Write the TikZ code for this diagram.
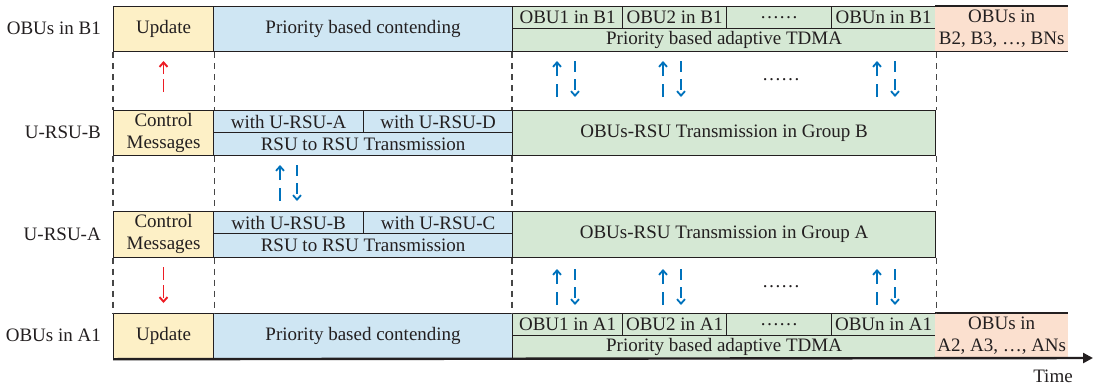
\documentclass[tikz,border=0pt]{standalone}
\usepackage{fontspec}
\setmainfont{Liberation Serif}
\usetikzlibrary{arrows.meta}

\definecolor{updfill}{RGB}{253,240,198}
\definecolor{contfill}{RGB}{207,230,243}
\definecolor{tdmafill}{RGB}{213,232,212}
\definecolor{restfill}{RGB}{251,224,207}
\definecolor{edge}{RGB}{35,31,32}
\definecolor{guidegray}{RGB}{70,70,70}
\definecolor{sigblue}{RGB}{0,114,188}
\definecolor{sigred}{RGB}{237,28,36}

\tikzset{
  txt/.style={text=edge, font=\fontsize{19}{22}\selectfont},
  cell/.style={txt, draw=edge, line width=1.2pt, inner sep=0pt, align=center, anchor=north west},
  upd/.style={cell, fill=updfill},
  cont/.style={cell, fill=contfill},
  tdma/.style={cell, fill=tdmafill},
  rest/.style={txt, fill=restfill, inner sep=0pt, align=center, anchor=north west},
  rowlabel/.style={txt, anchor=east, inner sep=0pt},
  guide/.style={guidegray, line width=1.1pt, dash pattern=on 6pt off 5pt},
  sigup/.style={sigblue, line width=1.8pt, dash pattern=on 13pt off 8pt, -{Straight Barb[length=4.5pt,width=8pt]}},
  sigdown/.style={sigblue, line width=1.8pt, dash pattern=on 11pt off 7pt, -{Straight Barb[length=4.5pt,width=8pt]}},
  redsig/.style={sigred, line width=1.9pt, dash pattern=on 13pt off 5pt, -{Straight Barb[length=4.5pt,width=8pt]}},
  axis/.style={edge, line width=2.4pt, -{Triangle[length=10pt,width=10pt]}},
}

\begin{document}
\begin{tikzpicture}[x=1pt,y=-1pt]
\useasboundingbox (0,0) rectangle (1094,388);

% ---------------- row labels ----------------
\node[rowlabel] (lblB1) at (101,28.5)  {OBUs in B1};
\node[rowlabel] (lblRB) at (101,132.5) {U-RSU-B};
\node[rowlabel] (lblRA) at (101,234)   {U-RSU-A};
\node[rowlabel] (lblA1) at (101,335.5) {OBUs in A1};

% ---------------- OBUs in B1 ----------------
\node[upd,  minimum width=100pt, minimum height=45pt]   (updB)  at (113,6)    {Update};
\node[cont, minimum width=299pt, minimum height=45pt]   (contB) at (213,6)    {Priority based contending};
\node[tdma, minimum width=110pt, minimum height=21.5pt] (obu1B) at (512,6)    {OBU1 in B1};
\node[tdma, minimum width=104pt, minimum height=21.5pt] (obu2B) at (622,6)    {OBU2 in B1};
\node[tdma, minimum width=105pt, minimum height=21.5pt] (obudB) at (726,6)    {……};
\node[tdma, minimum width=104pt, minimum height=21.5pt] (obunB) at (831,6)    {OBUn in B1};
\node[tdma, minimum width=423pt, minimum height=23.5pt] (tdmaB) at (512,27.5) {Priority based adaptive TDMA};
\node[rest, minimum width=133pt, minimum height=45pt]   (restB) at (935,6)    {OBUs in\\B2, B3, …, BNs};
\draw[edge, line width=1.2pt] (restB.north west) -- (restB.north east);
\draw[edge, line width=1.2pt] (restB.south west) -- (restB.south east);

% ---------------- U-RSU-B ----------------
\node[upd,  minimum width=100pt, minimum height=45pt] (ctrlB) at (113,110) {Control\\Messages};
\node[cont, minimum width=150pt, minimum height=22pt] (wAB)   at (213,110) {with U-RSU-A};
\node[cont, minimum width=149pt, minimum height=22pt] (wDB)   at (363,110) {with U-RSU-D};
\node[cont, minimum width=299pt, minimum height=23pt] (r2rB)  at (213,132) {RSU to RSU Transmission};
\node[tdma, minimum width=423pt, minimum height=45pt] (grpB)  at (512,110) {OBUs-RSU Transmission in Group B};

% ---------------- U-RSU-A ----------------
\node[upd,  minimum width=100pt, minimum height=45.5pt] (ctrlA) at (113,211) {Control\\Messages};
\node[cont, minimum width=150pt, minimum height=22pt]   (wBA)   at (213,211) {with U-RSU-B};
\node[cont, minimum width=149pt, minimum height=22pt]   (wCA)   at (363,211) {with U-RSU-C};
\node[cont, minimum width=299pt, minimum height=23.5pt] (r2rA)  at (213,233) {RSU to RSU Transmission};
\node[tdma, minimum width=423pt, minimum height=45.5pt] (grpA)  at (512,211) {OBUs-RSU Transmission in Group A};

% ---------------- OBUs in A1 ----------------
\node[upd,  minimum width=100pt, minimum height=45pt]   (updA)  at (113,313)  {Update};
\node[cont, minimum width=299pt, minimum height=45pt]   (contA) at (213,313)  {Priority based contending};
\node[tdma, minimum width=110pt, minimum height=22pt]   (obu1A) at (512,313)  {OBU1 in A1};
\node[tdma, minimum width=104pt, minimum height=22pt]   (obu2A) at (622,313)  {OBU2 in A1};
\node[tdma, minimum width=105pt, minimum height=22pt]   (obudA) at (726,313)  {……};
\node[tdma, minimum width=104pt, minimum height=22pt]   (obunA) at (831,313)  {OBUn in A1};
\node[tdma, minimum width=423pt, minimum height=23pt]   (tdmaA) at (512,335)  {Priority based adaptive TDMA};
\node[rest, minimum width=133pt, minimum height=45pt]   (restA) at (935,313)  {OBUs in\\A2, A3, …, ANs};
\draw[edge, line width=1.2pt] (restA.north west) -- (restA.north east);

% ---------------- slot boundaries between rows ----------------
\draw[guide] (updB.south west)  -- (ctrlB.north west);
\draw[guide] (updB.south east)  -- (ctrlB.north east);
\draw[guide] (tdmaB.south west) -- (grpB.north west);
\draw[guide] (tdmaB.south east) -- (grpB.north east);

\draw[guide] (ctrlB.south west) -- (ctrlA.north west);
\draw[guide] (ctrlB.south east) -- (ctrlA.north east);
\draw[guide] (grpB.south west)  -- (grpA.north west);
\draw[guide] (grpB.south east)  -- (grpA.north east);

\draw[guide] (ctrlA.south west) -- (updA.north west);
\draw[guide] (ctrlA.south east) -- (updA.north east);
\draw[guide] (grpA.south west)  -- (obu1A.north west);
\draw[guide] (grpA.south east)  -- (obunA.north east);

% ---------------- signalling between OBUs and RSUs ----------------
\foreach \i/\u/\d in {1/557/575, 2/663/681, 3/877/895} {
  % group B: OBUs above the RSU
  \coordinate (bu\i-s) at (\u,97);  \coordinate (bu\i-e) at (\u,61);
  \coordinate (bd\i-s) at (\d,61);  \coordinate (bd\i-e) at (\d,97);
  \draw[sigup]   (bu\i-s) -- (bu\i-e);
  \draw[sigdown] (bd\i-s) -- (bd\i-e);
  % group A: OBUs below the RSU
  \coordinate (au\i-s) at (\u,305); \coordinate (au\i-e) at (\u,269);
  \coordinate (ad\i-s) at (\d,269); \coordinate (ad\i-e) at (\d,305);
  \draw[sigup]   (au\i-s) -- (au\i-e);
  \draw[sigdown] (ad\i-s) -- (ad\i-e);
}
\node[txt, anchor=base] (dotsB) at (781,80)  {……};
\node[txt, anchor=base] (dotsA) at (781,287) {……};

% RSU to RSU exchange
\coordinate (ru-s) at (280,201); \coordinate (ru-e) at (280,165);
\coordinate (rd-s) at (297,165); \coordinate (rd-e) at (297,201);
\draw[sigup]   (ru-s) -- (ru-e);
\draw[sigdown] (rd-s) -- (rd-e);

% control message distribution
\coordinate (cu-s) at (163.5,92);  \coordinate (cu-e) at (163.5,61);
\coordinate (cd-s) at (163.5,267); \coordinate (cd-e) at (163.5,303);
\draw[redsig] (cu-s) -- (cu-e);
\draw[redsig] (cd-s) -- (cd-e);

% ---------------- time axis ----------------
\coordinate (tip) at (1093,358);
\draw[axis] (updA.south west) -- (tip);
\node[txt] (time) at (1053,376) {Time};
\end{tikzpicture}
\end{document}
